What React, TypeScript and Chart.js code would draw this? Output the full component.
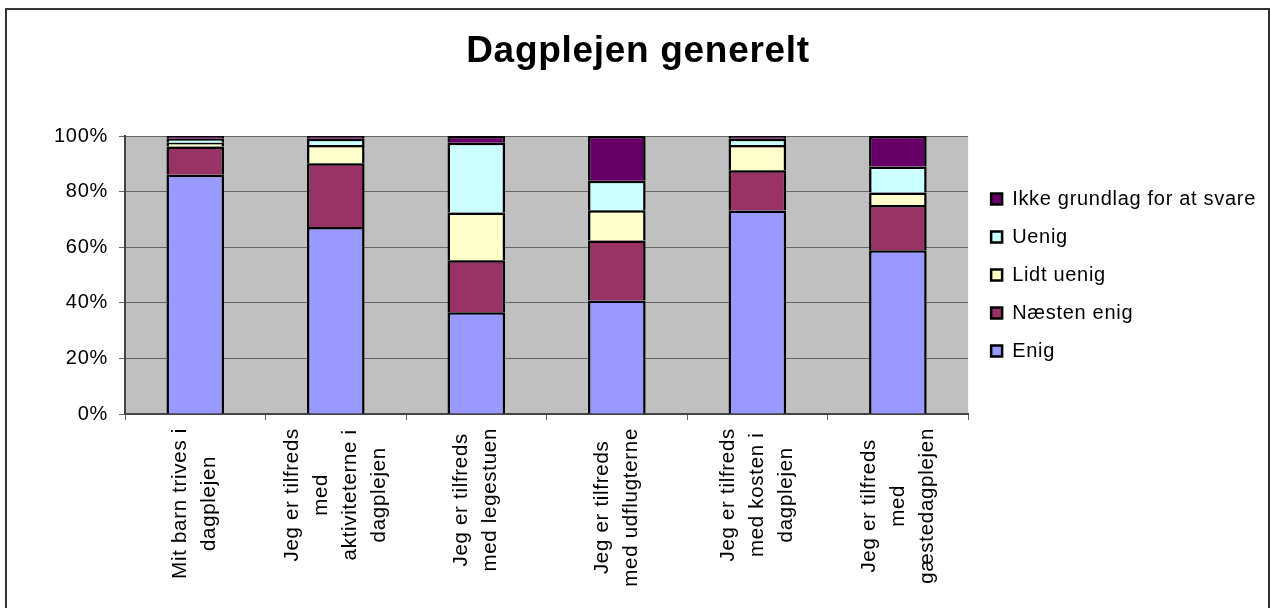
import React, { useEffect, useRef } from "react";
import { Chart, registerables } from "chart.js";

Chart.register(...registerables);

const chartTitle = "Dagplejen generelt";

const categories: string[][] = [
  ["Mit barn trives i", "dagplejen"],
  ["Jeg er tilfreds", "med", "aktiviteterne i", "dagplejen"],
  ["Jeg er tilfreds", "med legestuen"],
  ["Jeg er tilfreds", "med udflugterne"],
  ["Jeg er tilfreds", "med kosten i", "dagplejen"],
  ["Jeg er tilfreds", "med", "gæstedagplejen"],
];

const seriesNames = ["Enig", "Næsten enig", "Lidt uenig", "Uenig", "Ikke grundlag for at svare"];
const enig = [86.1, 67.3, 36.6, 40.8, 73.2, 58.9];
const naestenEnig = [10.1, 22.9, 18.7, 21.6, 14.5, 16.3];
const lidtUenig = [1.4, 6.6, 17.2, 10.9, 9.1, 4.5];
const uenig = [1.4, 2.2, 25.1, 10.6, 2.2, 9.3];
const ikkeGrundlag = [1.0, 1.0, 2.4, 16.1, 1.0, 11.0];
const seriesColors = ["#9999FF", "#993366", "#FFFFCC", "#CCFFFF", "#660066"];

const yMin = 0;
const yMax = 100;
const yStep = 20;

const FONT = '"Liberation Sans", Arial, sans-serif';
const SPACING = "0.7px";

export default function App() {
  const ref = useRef<HTMLCanvasElement>(null);

  useEffect(() => {
    const canvas = ref.current;
    if (!canvas) return;
    const values = [enig, naestenEnig, lidtUenig, uenig, ikkeGrundlag];

    const letterSpacing = {
      id: "letterSpacing",
      beforeLayout(chart: any) {
        chart.ctx.letterSpacing = SPACING;
      },
      beforeDraw(chart: any) {
        chart.ctx.letterSpacing = SPACING;
      },
    };

    const plotBg = {
      id: "plotBg",
      beforeDraw(chart: any) {
        const { ctx, chartArea: a } = chart;
        ctx.save();
        ctx.fillStyle = "#C0C0C0";
        ctx.fillRect(a.left, a.top, a.right - a.left, a.bottom - a.top);
        ctx.restore();
      },
    };

    const boxShift = {
      id: "boxShift",
      afterLayout(chart: any) {
        const lg = chart.legend;
        if (lg) {
          lg.left += 5;
          lg.right += 5;
        }
        const tb = chart.titleBlock;
        if (tb) {
          tb.left += 7.5;
          tb.right += 7.5;
        }
      },
    };

    const xLabels = {
      id: "xLabels",
      afterDraw(chart: any) {
        const xs = chart.scales.x;
        const ctx = chart.ctx;
        const lineH = 29;
        ctx.save();
        ctx.letterSpacing = SPACING;
        ctx.font = `20.5px ${FONT}`;
        ctx.fillStyle = "#000";
        ctx.textAlign = "center";
        ctx.textBaseline = "middle";
        (chart.data.labels as string[][]).forEach((lines, i) => {
          const x = xs.getPixelForTick(i);
          const maxW = Math.max(...lines.map((l) => ctx.measureText(l).width));
          const cy = xs.top + 14 + maxW / 2;
          ctx.save();
          ctx.translate(x, cy);
          ctx.rotate(-Math.PI / 2);
          lines.forEach((l, k) => {
            const off = (k - (lines.length - 1) / 2) * lineH;
            ctx.fillText(l, 0, off);
          });
          ctx.restore();
        });
        ctx.restore();
      },
    };

    const chart = new Chart(canvas, {
      type: "bar",
      data: {
        labels: categories as any,
        datasets: seriesNames.map((name, i) => ({
          label: name,
          data: values[i],
          backgroundColor: seriesColors[i],
          borderColor: "#000",
          borderWidth: 2.5,
          barPercentage: 0.41,
          categoryPercentage: 1,
        })),
      },
      options: {
        responsive: false,
        animation: false,
        devicePixelRatio: 1,
        layout: { padding: { left: 0, right: 9, top: 0, bottom: 0 } },
        plugins: {
          title: {
            display: true,
            text: chartTitle,
            color: "#000",
            font: { family: FONT, size: 37, weight: "bold" },
            padding: { top: 30, bottom: 61.6 },
          },
          legend: {
            position: "right",
            fullSize: false,
            reverse: true,
            labels: {
              color: "#000",
              font: { family: FONT, size: 20 },
              boxWidth: 11,
              boxHeight: 11,
              padding: 18,
            },
          },
          tooltip: { enabled: false },
        },
        scales: {
          x: {
            stacked: true,
            grid: {
              display: true,
              drawOnChartArea: false,
              drawTicks: true,
              tickLength: 6,
              color: "#666",
              offset: true,
            },
            border: { display: true, color: "#444", width: 2 },
            ticks: { display: false },
            afterFit(s: any) {
              s.height = 194;
            },
          },
          y: {
            stacked: true,
            min: yMin,
            max: yMax,
            ticks: {
              stepSize: yStep,
              callback: (v: any) => v + "%",
              color: "#000",
              font: { family: FONT, size: 20 },
              padding: 11,
            },
            grid: { color: "#666", tickLength: 6 },
            border: { display: true, color: "#444", width: 2 },
            afterFit(s: any) {
              s.width = 125;
            },
          },
        },
      },
      plugins: [letterSpacing, plotBg, boxShift, xLabels],
    } as any);

    return () => chart.destroy();
  }, []);

  return (
    <>
      <canvas
        ref={ref}
        width={1270}
        height={608}
        style={{ position: "fixed", left: 0, top: 0, width: 1270, height: 608 }}
      />
      <div
        style={{
          position: "fixed",
          left: 5,
          top: 8,
          width: 1265,
          height: 600,
          boxSizing: "border-box",
          borderTop: "2px solid #333",
          borderLeft: "2px solid #333",
          borderRight: "2px solid #333",
          pointerEvents: "none",
        }}
      />
    </>
  );
}
